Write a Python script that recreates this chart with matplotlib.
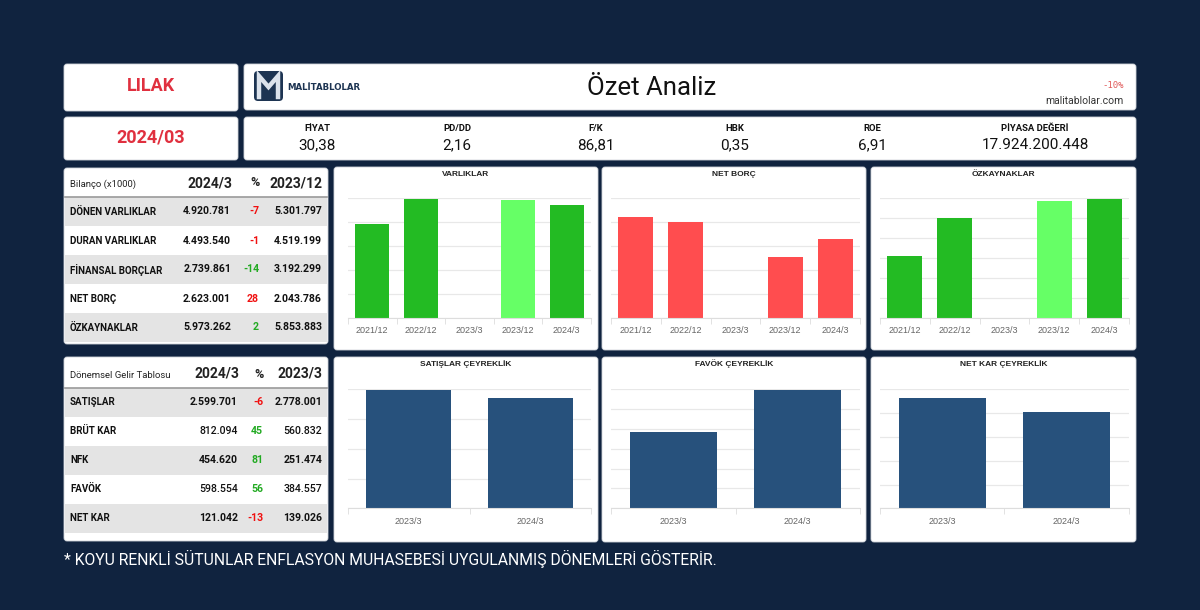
import numpy as np
import matplotlib
matplotlib.use('Agg')
import matplotlib.pyplot as plt
from matplotlib.patches import FancyBboxPatch, Rectangle

# --- veriler ---
hisse = 'LILAK'
donem = '2024/03'
metrik_adlari = ['FİYAT', 'PD/DD', 'F/K', 'HBK', 'ROE', 'PİYASA DEĞERİ']
metrik_degerleri = ['30,38', '2,16', '86,81', '0,35', '6,91', '17.924.200.448']

bilanco_kalemleri = ['DÖNEN VARLIKLAR', 'DURAN VARLIKLAR', 'FİNANSAL BORÇLAR', 'NET BORÇ', 'ÖZKAYNAKLAR']
bilanco_2024_3 = ['4.920.781', '4.493.540', '2.739.861', '2.623.001', '5.973.262']
bilanco_yuzde = ['-7', '-1', '-14', '28', '2']
bilanco_yuzde_renk = ['r', 'r', 'g', 'r', 'g']
bilanco_2023_12 = ['5.301.797', '4.519.199', '3.192.299', '2.043.786', '5.853.883']

gelir_kalemleri = ['SATIŞLAR', 'BRÜT KAR', 'NFK', 'FAVÖK', 'NET KAR']
gelir_2024_3 = ['2.599.701', '812.094', '454.620', '598.554', '121.042']
gelir_yuzde = ['-6', '45', '81', '56', '-13']
gelir_yuzde_renk = ['r', 'g', 'g', 'g', 'r']
gelir_2023_3 = ['2.778.001', '560.832', '251.474', '384.557', '139.026']

yillik_donemler = ['2021/12', '2022/12', '2023/3', '2023/12', '2024/3']
ceyrek_donemler = ['2023/3', '2024/3']
varliklar = [7810000, 9890000, 0, 9820996, 9414321]
net_borc = [3360000, 3200000, 0, 2043786, 2623001]
ozkaynaklar = [3080000, 4980000, 0, 5853883, 5973262]
satislar = [2778001, 2599701]
favok = [384557, 598554]
net_kar = [139026, 121042]

BG = '#10233F'
KOYU_YESIL = '#23BB23'
ACIK_YESIL = '#66FF66'
KIRMIZI = '#FF4D4F'
LACIVERT = '#27517C'
KIRMIZI_YAZI = '#E0303F'
PCT_RENK = {'r': '#F01010', 'g': '#22AA22'}

W, H = 1200, 610
fig = plt.figure(figsize=(12, 6.1), dpi=100, facecolor=BG)
bg = fig.add_axes([0, 0, 1, 1])
bg.set_xlim(0, W)
bg.set_ylim(H, 0)
bg.axis('off')
bg.set_facecolor(BG)

FONT = 'Roboto'
CHART_FONT = 'Liberation Sans'


def panel(x0, y0, x1, y1):
    bg.add_patch(FancyBboxPatch((x0, y0), x1 - x0, y1 - y0,
                                boxstyle='round,pad=0,rounding_size=3',
                                fc='white', ec='#d0d4da', lw=0.6, zorder=1))


# ust kutular
panel(64, 64, 238, 111)
panel(64, 117, 238, 160)
panel(244, 64, 1136, 110)
panel(244, 117, 1136, 160)

bg.text(151, 86, hisse, color=KIRMIZI_YAZI, fontsize=13, fontweight='bold',
        family=FONT, ha='center', va='center', zorder=3)
bg.text(151, 138, donem, color=KIRMIZI_YAZI, fontsize=13, fontweight='bold',
        family=FONT, ha='center', va='center', zorder=3)

# logo
bg.add_patch(FancyBboxPatch((254, 71), 29, 30, boxstyle='round,pad=0,rounding_size=4',
                            fc='#1D3452', ec='none', zorder=2))
bg.plot([259, 259, 268.5, 278, 278], [97, 76, 87, 76, 97], color='#DCE3EC',
        lw=3.2, solid_joinstyle='miter', zorder=3)
bg.text(287, 87, 'MALİTABLOLAR', color='#1D3452', fontsize=6.2, fontweight='bold',
        family='DejaVu Sans', ha='left', va='center', zorder=3)

bg.text(652, 88, 'Özet Analiz', color='#111111', fontsize=18.5, family=FONT,
        ha='center', va='center', zorder=3)
bg.text(1124, 86, '-10%', color='#E05A5A', fontsize=6.5, family='DejaVu Sans Mono',
        ha='right', va='center', zorder=3)
bg.text(1124, 101.5, 'malitablolar.com', color='#333333', fontsize=7.5, family=FONT,
        ha='right', va='center', zorder=3)

metrik_x = [317, 457, 596, 735, 872, 1035]
for mx, ad, deger in zip(metrik_x, metrik_adlari, metrik_degerleri):
    bg.text(mx, 128.5, ad, fontsize=6.8, fontweight='bold', family=FONT,
            color='#111111', ha='center', va='center', zorder=3)
    bg.text(mx, 145, deger, fontsize=11, family=FONT,
            color='#111111', ha='center', va='center', zorder=3)


def tablo(top, bottom, baslik, kolon1, kolon2, kalemler, d1, yuzde, renk, d2,
          hdr_y, line_y, x_v1, x_pct, x_pct_hdr, bold_rows):
    panel(64, top, 328, bottom)
    bg.text(70, hdr_y, baslik, fontsize=6.8, family=FONT, color='#222222',
            ha='left', va='center', zorder=3)
    bg.text(x_v1 + 1, hdr_y - 1, kolon1, fontsize=10, fontweight='bold', family=FONT,
            color='#222222', ha='right', va='center', zorder=3)
    bg.text(x_pct_hdr, hdr_y - 1, '%', fontsize=9, fontweight='bold', family=FONT,
            color='#222222', ha='center', va='center', zorder=3)
    bg.text(322, hdr_y - 1, kolon2, fontsize=10, fontweight='bold', family=FONT,
            color='#222222', ha='right', va='center', zorder=3)
    bg.plot([65, 327], [line_y, line_y], color='#9a9a9a', lw=1.2, zorder=3)
    rh = 29
    for i, ad in enumerate(kalemler):
        y0 = line_y + i * rh
        if i % 2 == 0:
            bg.add_patch(Rectangle((65, y0), 262, rh, fc='#E4E4E4', ec='none', zorder=2))
        yc = y0 + rh / 2
        w = 'bold' if bold_rows[i] else 'medium'
        bg.text(70, yc, ad, fontsize=7, fontweight='bold', family=FONT,
                color='#111111', ha='left', va='center', zorder=3)
        bg.text(x_v1, yc, d1[i], fontsize=7.6, fontweight=w, family=FONT,
                color='#111111', ha='right', va='center', zorder=3)
        bg.text(x_pct, yc, yuzde[i], fontsize=7.6, fontweight='bold', family=FONT,
                color=PCT_RENK[renk[i]], ha='right', va='center', zorder=3)
        bg.text(322, yc, d2[i], fontsize=7.6, fontweight=w, family=FONT,
                color='#111111', ha='right', va='center', zorder=3)


tablo(168, 344, 'Bilanço (x1000)', '2024/3', '2023/12', bilanco_kalemleri,
      bilanco_2024_3, bilanco_yuzde, bilanco_yuzde_renk, bilanco_2023_12,
      184, 197, 231, 259, 255, [True] * 5)
tablo(357, 541, 'Dönemsel Gelir Tablosu', '2024/3', '2023/3', gelir_kalemleri,
      gelir_2024_3, gelir_yuzde, gelir_yuzde_renk, gelir_2023_3,
      375, 387.5, 238, 263, 259, [True, False, True, False, True])


def grafik(px0, py0, px1, py1, ax0, ay0, ax1, ay1, baslik, donemler, degerler,
           renkler, ymax, adim):
    panel(px0, py0, px1, py1)
    bg.text((px0 + px1) / 2, py0 + 7, baslik, fontsize=6, fontweight='bold',
            family=CHART_FONT, color='#222222', ha='center', va='center', zorder=3)
    ax = fig.add_axes([ax0 / W, 1 - ay1 / H, (ax1 - ax0) / W, (ay1 - ay0) / H])
    ax.set_facecolor('none')
    n = len(donemler)
    ax.bar(np.arange(n), degerler, width=0.7, color=renkler, zorder=2)
    ax.set_xlim(-0.5, n - 0.5)
    ax.set_ylim(0, ymax)
    ax.set_yticks(np.linspace(0, ymax, adim + 1))
    ax.set_yticklabels([])
    ax.tick_params(axis='y', length=0)
    ax.yaxis.grid(True, color='#E8E8E8', lw=0.9, zorder=0)
    for s in ['top', 'right', 'left']:
        ax.spines[s].set_visible(False)
    ax.spines['bottom'].set_color('#DDDDDD')
    ax.set_xticks(np.arange(n))
    ax.set_xticklabels(donemler, fontsize=6.5, family=CHART_FONT, color='#666666')
    ax.tick_params(axis='x', length=0, pad=6)
    ax.set_xticks(np.arange(n + 1) - 0.5, minor=True)
    ax.tick_params(axis='x', which='minor', length=4, color='#DDDDDD')
    return ax


yil_renk = [KOYU_YESIL, KOYU_YESIL, KOYU_YESIL, ACIK_YESIL, KOYU_YESIL]
grafik(334, 167, 598, 350, 348, 198, 591, 318, 'VARLIKLAR', yillik_donemler,
       varliklar, yil_renk, 10000000, 5)
grafik(602, 167, 866, 350, 611, 198, 860, 318, 'NET BORÇ', yillik_donemler,
       net_borc, [KIRMIZI] * 5, 4000000, 5)
grafik(871, 167, 1136, 350, 880, 198, 1129, 318, 'ÖZKAYNAKLAR', yillik_donemler,
       ozkaynaklar, yil_renk, 6000000, 6)
grafik(334, 357, 598, 542, 348, 389.3, 591, 508.3, 'SATIŞLAR ÇEYREKLİK', ceyrek_donemler,
       satislar, [LACIVERT] * 2, 2800000, 4)
grafik(602, 357, 866, 542, 611, 389.3, 860, 508.3, 'FAVÖK ÇEYREKLİK', ceyrek_donemler,
       favok, [LACIVERT] * 2, 600000, 6)
grafik(871, 357, 1136, 542, 880, 389.3, 1129, 508.3, 'NET KAR ÇEYREKLİK', ceyrek_donemler,
       net_kar, [LACIVERT] * 2, 150000, 5)

bg.text(64, 559, '* KOYU RENKLİ SÜTUNLAR ENFLASYON MUHASEBESİ UYGULANMIŞ DÖNEMLERİ GÖSTERİR.',
        fontsize=11.3, family=FONT, color='white', ha='left', va='center', zorder=3)

fig.savefig('out.png', dpi=100, facecolor=BG)
